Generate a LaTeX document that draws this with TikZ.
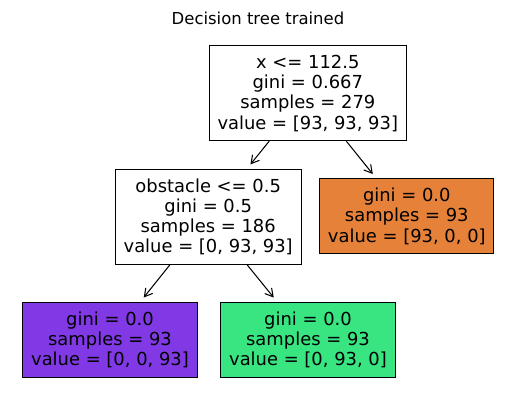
\documentclass[tikz,border=0pt]{standalone}
\usepackage{fontspec}
\setmainfont{DejaVu Sans}
\usepackage{tikz}
\usetikzlibrary{arrows}
\usetikzlibrary{arrows.meta}
\usetikzlibrary{positioning}
\definecolor{leaforange}{HTML}{E58139}
\definecolor{leafpurple}{HTML}{8139E5}
\definecolor{leafgreen}{HTML}{39E581}

\begin{document}
\begin{tikzpicture}[x=0.72pt, y=-0.72pt,
    treenode/.style={draw=black, line width=0.7pt, align=center, inner xsep=6pt, inner ysep=6.6pt,
      font=\fontsize{12.9}{14.6}\selectfont},
    treeedge/.style={-{Straight Barb[length=5.6pt,width=6.4pt]}, line width=0.75pt, shorten >=4pt}]
  \useasboundingbox (0,0) rectangle (515,411);
  \node[font=\fontsize{11.85}{14.4}\selectfont] (title) at (258,18) {Decision tree trained};
  % split nodes
  \node[treenode] (root) at (307.8,93.3) {x <= 112.5\\gini = 0.667\\samples = 279\\value = [93, 93, 93]};
  \node[treenode] (obst) at (208.2,216.8) {obstacle <= 0.5\\gini = 0.5\\samples = 186\\value = [0, 93, 93]};
  % leaves
  \node[treenode, fill=leaforange] (leafa) at (406.8,216.3) {gini = 0.0\\samples = 93\\value = [93, 0, 0]};
  \node[treenode, fill=leafpurple] (leafc) at (110,339.8) {gini = 0.0\\samples = 93\\value = [0, 0, 93]};
  \node[treenode, fill=leafgreen] (leafb) at (308,339.8) {gini = 0.0\\samples = 93\\value = [0, 93, 0]};
  \draw[treeedge] (root) -- (obst);
  \draw[treeedge] (root) -- (leafa);
  \draw[treeedge] (obst) -- (leafc);
  \draw[treeedge] (obst) -- (leafb);
\end{tikzpicture}
\end{document}
